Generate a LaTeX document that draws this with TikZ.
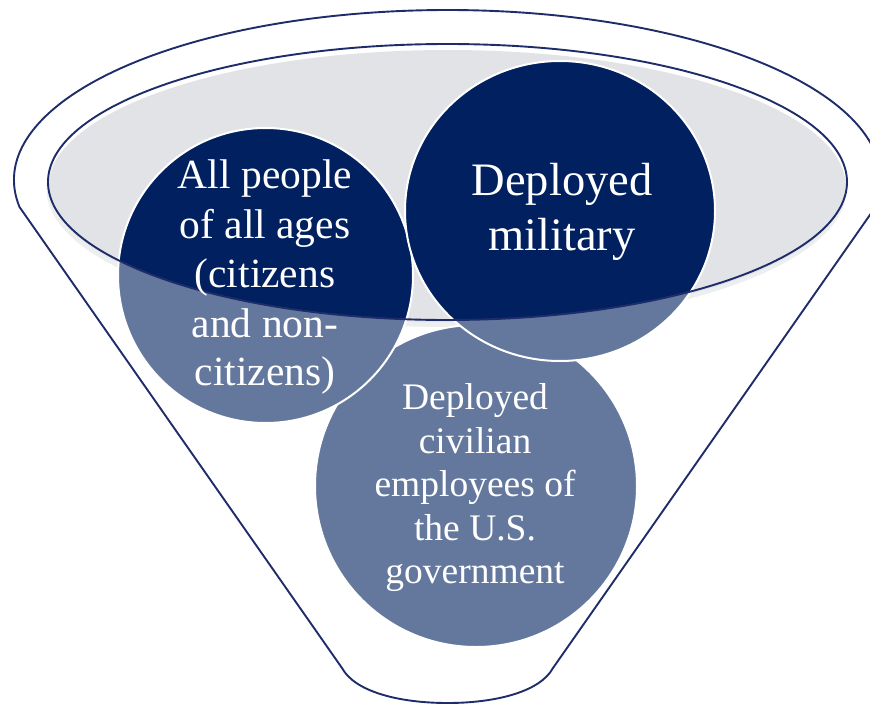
\documentclass[tikz,border=0pt]{standalone}
\usepackage{fontspec}
\setmainfont{Liberation Serif}
\usetikzlibrary{shapes.geometric}
\definecolor{darknavy}{HTML}{00205F}
\definecolor{lightnavy}{HTML}{64789E}
\definecolor{innergray}{HTML}{E2E3E7}
\definecolor{shadowgray}{HTML}{EDEEF0}
\definecolor{funnelblue}{HTML}{1F2C6A}
\tikzset{
  funnelline/.style={draw=funnelblue, line width=1.9pt, line join=round},
  disc/.style={fill=lightnavy, inner sep=0pt, draw=none},
  discedge/.style={draw=white, line width=2pt},
  lbl/.style={text=white, anchor=base, inner sep=0pt},
  lblA/.style={lbl, font=\fontsize{41.5}{49.5}\selectfont},
  lblB/.style={lbl, font=\fontsize{46.5}{55}\selectfont},
  lblC/.style={lbl, font=\fontsize{37.5}{43.5}\selectfont}
}
\begin{document}
\begin{tikzpicture}[x=1pt,y=-1pt]
\useasboundingbox (0,0) rectangle (870,704);
% funnel outline
\draw[funnelline] (19.51,207) arc[start angle=189.14, end angle=-9.14, x radius=433.5pt, y radius=170pt]
  -- (553,668) .. controls (540,692) and (495,703) .. (447.5,703)
  .. controls (400,703) and (355,692) .. (342,668) -- cycle;
% inner ellipse fill with soft shadow
\fill[shadowgray] (446.5,189) ellipse [x radius=400pt, y radius=138pt];
\fill[innergray] (447.5,186) ellipse [x radius=398pt, y radius=136pt];
% bottom circle
\node[disc, circle, minimum size=322pt] (civ) at (476,486) {};
\draw[discedge] (civ.center) circle [radius=161pt];
% left circle
\node[disc, circle, minimum size=295pt] (pop) at (265.5,275.5) {};
\begin{scope}
  \clip (447.5,182) ellipse [x radius=399.5pt, y radius=138pt];
  \fill[darknavy] (pop.center) circle [radius=147.5pt];
\end{scope}
\draw[discedge] (pop.center) circle [radius=147.5pt];
% right circle
\node[disc, ellipse, minimum width=310pt, minimum height=300pt] (mil) at (560,211) {};
\begin{scope}
  \clip (447.5,182) ellipse [x radius=399.5pt, y radius=138pt];
  \fill[darknavy] (mil.center) ellipse [x radius=155pt, y radius=150pt];
\end{scope}
\draw[discedge] (mil.center) ellipse [x radius=155pt, y radius=150pt];
% inner ellipse outline
\draw[funnelline] (447.5,182) ellipse [x radius=399.5pt, y radius=138pt];
% texts
\node[lblA] (a1) at (265,188) {All people};
\node[lblA] (a2) at (265,238) {of all ages};
\node[lblA] (a3) at (265,287) {(citizens};
\node[lblA] (a4) at (265,337) {and non-};
\node[lblA] (a5) at (265,385) {citizens)};
\node[lblB] (b1) at (562,195) {Deployed};
\node[lblB] (b2) at (562,250) {military};
\node[lblC] (c1) at (475,409.5) {Deployed};
\node[lblC] (c2) at (475,453) {civilian};
\node[lblC] (c3) at (475,496.5) {employees of};
\node[lblC] (c4) at (475,540) {the U.S.};
\node[lblC] (c5) at (475,583.5) {government};
\end{tikzpicture}
\end{document}
